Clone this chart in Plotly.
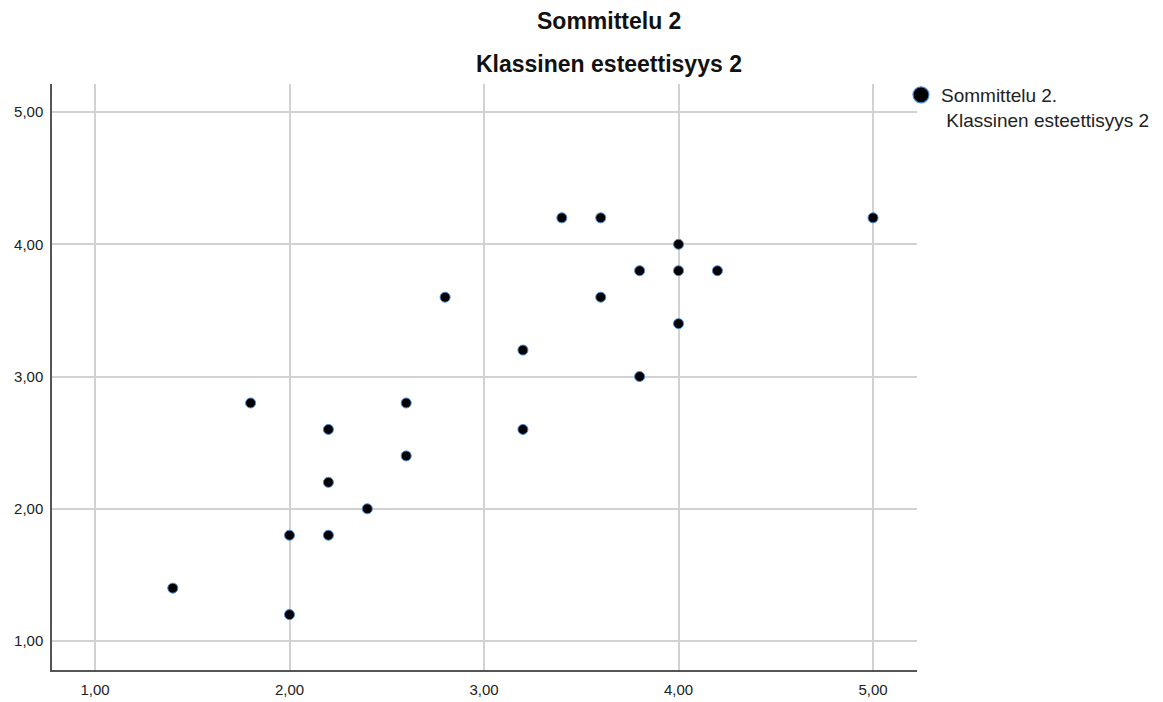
import plotly.graph_objects as go

# Data
x_vals = [1.4, 2.0, 2.0, 2.2, 1.8, 2.2, 2.2, 2.4, 2.6, 2.6, 2.8, 3.2, 3.2,
          3.4, 3.6, 3.6, 3.8, 3.8, 4.0, 4.0, 4.0, 4.2, 5.0]
y_vals = [1.4, 1.2, 1.8, 1.8, 2.8, 2.6, 2.2, 2.0, 2.4, 2.8, 3.6, 3.2, 2.6,
          4.2, 4.2, 3.6, 3.8, 3.0, 4.0, 3.8, 3.4, 3.8, 4.2]
tick_vals = [1, 2, 3, 4, 5]
series_name = "Sommittelu 2.<br> Klassinen esteettisyys 2"
title_line1 = "Sommittelu 2"
title_line2 = "Klassinen esteettisyys 2"

FONT = "Liberation Sans, Arial, sans-serif"
OUTLINE = "#4a8ad8"

fig = go.Figure()
fig.add_trace(go.Scatter(
    x=x_vals, y=y_vals, mode="markers", showlegend=False,
    marker=dict(size=10, color="black", line=dict(color=OUTLINE, width=1)),
))
fig.add_trace(go.Scatter(
    x=[None], y=[None], mode="markers", name=series_name,
    marker=dict(size=16, color="black", line=dict(color=OUTLINE, width=1.2)),
))

axis_common = dict(
    tickvals=tick_vals, tickformat=".2f", automargin=False,
    showgrid=True, gridcolor="#d2d2d2", gridwidth=1.5,
    zeroline=False, showline=True, linecolor="#555555", linewidth=1.5,
    ticks="", tickfont=dict(family=FONT, size=15, color="#222222"),
)

fig.update_layout(
    width=1147, height=694,
    paper_bgcolor="white", plot_bgcolor="white",
    margin=dict(l=44, r=238, t=76, b=32, autoexpand=False),
    separators=", ",
    xaxis=dict(range=[0.779, 5.226], ticklabelstandoff=5, **axis_common),
    yaxis=dict(range=[0.781, 5.212], ticklabelstandoff=4, **axis_common),
    showlegend=True,
    legend=dict(x=0.9815, xanchor="left", y=1.0137, yanchor="top",
                valign="top",
                font=dict(family=FONT, size=19, color="#222222"),
                bgcolor="rgba(0,0,0,0)", tracegroupgap=0),
    font=dict(family=FONT),
)

fig.add_annotation(text="<b>" + title_line1 + "</b>", xref="paper", yref="paper",
                   x=0.644, y=1.0, yshift=63, showarrow=False, xanchor="center",
                   font=dict(size=23, color="#111111"), yanchor="middle")
fig.add_annotation(text="<b>" + title_line2 + "</b>", xref="paper", yref="paper",
                   x=0.644, y=1.0, yshift=20, showarrow=False, xanchor="center",
                   font=dict(size=23, color="#111111"), yanchor="middle")

fig.write_html("out.html")
